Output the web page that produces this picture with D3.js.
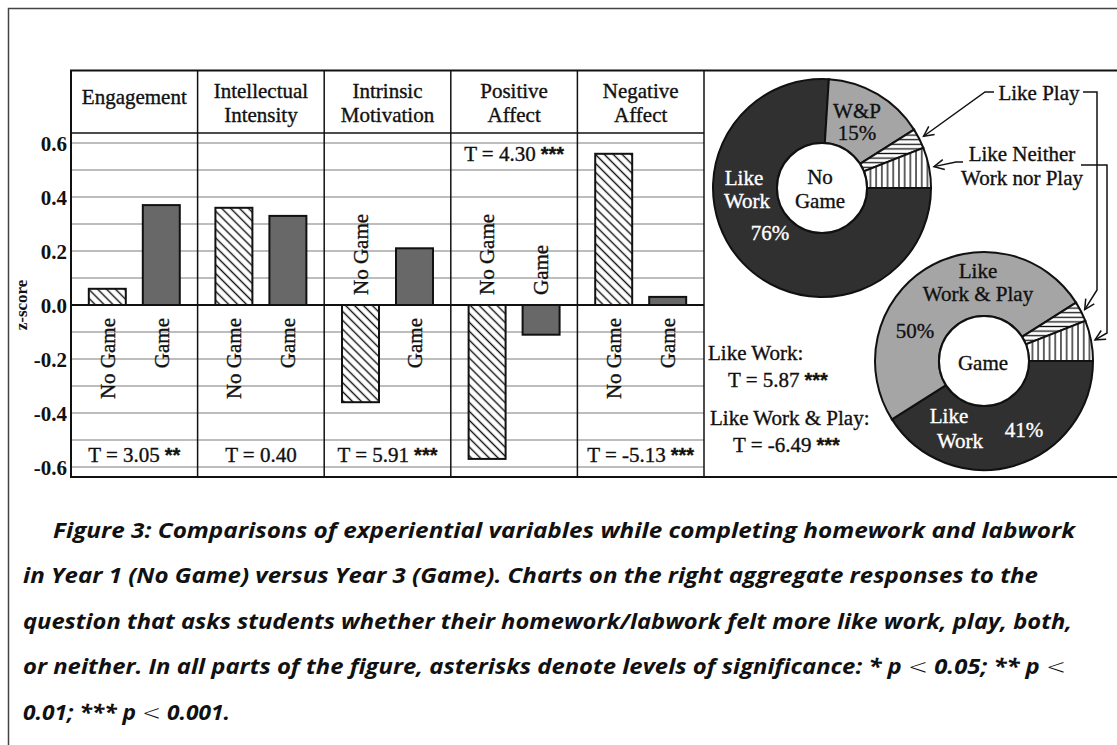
<!DOCTYPE html>
<html><head><meta charset="utf-8">
<script src="https://cdn.jsdelivr.net/npm/d3@7"></script>
<style>
html,body{margin:0;padding:0;background:#fff;overflow:hidden}
svg{display:block}
.st{stroke-width:0.35px}
</style></head><body>
<svg id="c" width="1117" height="745"></svg>
<script>
// ---------------- DATA ----------------
const categories = ["Engagement", "Intellectual Intensity", "Intrinsic Motivation", "Positive Affect", "Negative Affect"];
const headerLines = [["Engagement"], ["Intellectual", "Intensity"], ["Intrinsic", "Motivation"], ["Positive", "Affect"], ["Negative", "Affect"]];
const groups = ["No Game", "Game"];
const noGameValues = [0.06, 0.36, -0.36, -0.57, 0.56];
const gameValues = [0.37, 0.33, 0.21, -0.11, 0.03];
const tStats = ["T = 3.05", "T = 0.40", "T = 5.91", "T = 4.30", "T = -5.13"];
const tStars = ["**", "", "***", "***", "***"];
const yTicks = [-0.6, -0.4, -0.2, 0.0, 0.2, 0.4, 0.6];
const gridValues = [-0.6, -0.5, -0.4, -0.3, -0.2, -0.1, 0.1, 0.2, 0.3, 0.4, 0.5, 0.6];
const yLabel = "z-score";

const pieCategories = ["Like Work", "Like Work & Play", "Like Play", "Like Neither"];
const noGameShares = [76, 15, 3, 6];
const gameShares = [41, 50, 3, 6];
const pieStats = [["Like Work:", "T = 5.87", "***"], ["Like Work & Play:", "T = -6.49", "***"]];

const captionLines = [
  "Figure 3: Comparisons of experiential variables while completing homework and labwork",
  "in Year 1 (No Game) versus Year 3 (Game). Charts on the right aggregate responses to the",
  "question that asks students whether their homework/labwork felt more like work, play, both,",
  "or neither. In all parts of the figure, asterisks denote levels of significance: * p < 0.05; ** p <",
  "0.01; *** p < 0.001."
];

// ---------------- SETUP ----------------
const svg = d3.select("#c");
const serif = "'Liberation Serif','Times New Roman',serif";
const FS = 21;

const defs = svg.append("defs");
function hatch(id, w, h, rot, x1, y1, x2, y2, sw) {
  const p = defs.append("pattern").attr("id", id).attr("patternUnits", "userSpaceOnUse")
    .attr("width", w).attr("height", h);
  if (rot) p.attr("patternTransform", `rotate(${rot})`);
  p.append("rect").attr("width", w).attr("height", h).attr("fill", "#fff");
  p.append("line").attr("x1", x1).attr("y1", y1).attr("x2", x2).attr("y2", y2)
    .attr("stroke", "#111").attr("stroke-width", sw);
}
hatch("diag", 6.3, 10, -45, 3.15, 0, 3.15, 10, 1.4);
hatch("hh", 10, 4.6, 0, 0, 2.3, 10, 2.3, 1.3);
hatch("vh", 5.7, 10, 0, 2.85, 0, 2.85, 10, 1.3);
const arrow = defs.append("marker").attr("id", "arr").attr("markerUnits", "userSpaceOnUse")
  .attr("markerWidth", 14).attr("markerHeight", 14).attr("refX", 11).attr("refY", 6)
  .attr("orient", "auto");
arrow.append("path").attr("d", "M1,1 L11,6 L1,11").attr("fill", "none").attr("stroke", "#111").attr("stroke-width", 1.5);

// outer frame
svg.append("path").attr("d", "M8.5,745 V8.5 H1117").attr("fill", "none").attr("stroke", "#444").attr("stroke-width", 1.5);

const boxL = 71, boxT = 70.5, boxB = 477, headB = 133, panelsR = 704;
const x = d3.scaleBand().domain(categories).range([boxL, panelsR]);
const xi = d3.scaleBand().domain(groups).range([0, x.bandwidth()]).paddingInner(0.315).paddingOuter(0.33);
const y = d3.scaleLinear().domain([-0.637, 0.637]).range([boxB, headB]);

// gridlines
svg.append("g").selectAll("line").data(gridValues).join("line")
  .attr("x1", boxL).attr("x2", panelsR).attr("y1", d => y(d)).attr("y2", d => y(d))
  .attr("stroke", "#bdbdbd").attr("stroke-width", 2);

// bars
const barData = categories.flatMap((c, i) => [
  { c, g: groups[0], v: noGameValues[i] },
  { c, g: groups[1], v: gameValues[i] }
]);
svg.append("g").selectAll("rect").data(barData).join("rect")
  .attr("x", d => x(d.c) + xi(d.g))
  .attr("width", xi.bandwidth())
  .attr("y", d => y(Math.max(0, d.v)))
  .attr("height", d => Math.abs(y(d.v) - y(0)))
  .attr("fill", d => d.g === groups[0] ? "url(#diag)" : "#686868")
  .attr("stroke", "#111").attr("stroke-width", 2);

// zero line
svg.append("line").attr("x1", boxL).attr("x2", panelsR).attr("y1", y(0)).attr("y2", y(0))
  .attr("stroke", "#111").attr("stroke-width", 2);

// bar labels (rotated)
svg.append("g").selectAll("text").data(barData).join("text")
  .attr("class", "st").attr("stroke", "#111")
  .attr("transform", d => {
    const cx = x(d.c) + xi(d.g) + xi.bandwidth() / 2;
    const cy = d.v >= 0 ? y(0) + 13 : y(0) - 10;
    return `translate(${cx},${cy}) rotate(-90)`;
  })
  .attr("text-anchor", d => d.v >= 0 ? "end" : "start")
  .attr("dy", "0.35em")
  .attr("font-family", serif).attr("font-size", FS).attr("fill", "#111")
  .text(d => d.g);

// headers
const hdr = svg.append("g").selectAll("text").data(categories).join("text")
  .attr("class", "st").attr("stroke", "#111")
  .attr("text-anchor", "middle").attr("font-family", serif).attr("font-size", FS).attr("fill", "#111");
hdr.each(function (c, i) {
  const lines = headerLines[i];
  const base = lines.length === 1 ? [104] : [98, 122];
  d3.select(this).selectAll("tspan").data(lines).join("tspan")
    .attr("x", x(c) + x.bandwidth() / 2).attr("y", (d, j) => base[j]).text(d => d);
});

// T statistics
categories.forEach((c, i) => {
  const low = Math.min(noGameValues[i], gameValues[i]);
  const t = svg.append("text").attr("x", x(c) + x.bandwidth() / 2)
    .attr("class", "st").attr("stroke", "#111")
    .attr("y", low < -0.5 ? 161 : 462)
    .attr("text-anchor", "middle").attr("font-family", serif).attr("font-size", FS).attr("fill", "#111");
  t.append("tspan").text(tStats[i]);
  if (tStars[i]) t.append("tspan").attr("font-family", "'Liberation Sans',Arial,sans-serif")
    .attr("font-weight", "bold").attr("font-size", 20).attr("dx", 5).text(tStars[i]);
});

// panel dividers and box
svg.append("g").selectAll("line").data(categories.slice(1).concat(["__end"])).join("line")
  .attr("x1", d => d === "__end" ? panelsR : x(d)).attr("x2", d => d === "__end" ? panelsR : x(d))
  .attr("y1", boxT).attr("y2", boxB).attr("stroke", "#111").attr("stroke-width", 1.5);
svg.append("line").attr("x1", boxL).attr("x2", panelsR).attr("y1", headB).attr("y2", headB)
  .attr("stroke", "#111").attr("stroke-width", 1.5);
svg.append("path").attr("d", `M1117,${boxT} H${boxL} V${boxB} H1117`).attr("fill", "none")
  .attr("stroke", "#111").attr("stroke-width", 2);

// y axis
const yAxis = svg.append("g").attr("transform", `translate(${boxL},0)`)
  .call(d3.axisLeft(y).tickValues(yTicks).tickSize(0).tickPadding(4).tickFormat(d => d.toFixed(1)));
yAxis.select(".domain").remove();
yAxis.selectAll("text").attr("font-family", serif).attr("font-size", FS).attr("font-weight", "bold")
  .attr("fill", "#111").attr("dy", "0.38em");
svg.append("text").attr("transform", `translate(21,${y(0)}) rotate(-90)`).attr("text-anchor", "middle")
  .attr("dy", "0.35em").attr("font-family", serif).attr("font-size", 17).attr("font-weight", "bold")
  .attr("fill", "#111").text(yLabel);

// ---------------- DONUTS ----------------
const R = 109, RI = 45;
const pie = d3.pie().sort(null).value(d => d).startAngle(Math.PI / 2).endAngle(Math.PI / 2 + 2 * Math.PI);
const arc = d3.arc().innerRadius(RI).outerRadius(R);
const fills = ["#303030", "#a5a5a5", "url(#hh)", "url(#vh)"];

function donut(cx, cy, shares) {
  const g = svg.append("g").attr("transform", `translate(${cx},${cy})`);
  const arcs = pie(shares);
  g.selectAll("path").data(arcs).join("path").attr("d", arc)
    .attr("fill", (d, i) => fills[i]).attr("stroke", "#111").attr("stroke-width", 2);
  g.append("circle").attr("r", RI).attr("fill", "#fff").attr("stroke", "#111").attr("stroke-width", 2);
  return { g, arcs, cx, cy };
}
function tip(dn, i, extra) {
  const a = (dn.arcs[i].startAngle + dn.arcs[i].endAngle) / 2;
  return [dn.cx + Math.sin(a) * (R + extra), dn.cy - Math.cos(a) * (R + extra)];
}
function label(g, lines, dx, dys, color, anchor) {
  const t = g.append("text").attr("font-family", serif).attr("font-size", FS).attr("fill", color)
    .attr("class", "st").attr("stroke", color)
    .attr("text-anchor", anchor || "middle");
  lines.forEach((s, j) => t.append("tspan").attr("x", dx[j]).attr("y", dys[j]).text(s));
}

const d1 = donut(822, 188, noGameShares);
label(d1.g, ["W&P", "15%"], [35, 35], [-70, -48], "#111");
label(d1.g, ["Like", "Work"], [-78, -75], [-3, 20], "#fff");
label(d1.g, [noGameShares[0] + "%"], [-52], [52], "#fff");
label(d1.g, ["No", "Game"], [-2, -2], [-4, 20], "#111");

const d2 = donut(984, 361, gameShares);
label(d2.g, ["Like", "Work & Play"], [-6, -6], [-83, -60], "#111");
label(d2.g, [gameShares[1] + "%"], [-69], [-23], "#111");
label(d2.g, ["Game"], [-1], [9], "#111");
label(d2.g, ["Like", "Work"], [-35, -24], [62, 87], "#fff");
label(d2.g, [gameShares[0] + "%"], [40], [76], "#fff");

// callouts
const cg = svg.append("g");
label(cg, ["Like Play"], [1039], [100], "#111");
label(cg, ["Like Neither", "Work nor Play"], [1022, 1022], [161, 185], "#111");
const line = d3.line();
const p1 = tip(d1, 2, 5), p2 = tip(d1, 3, 5), p3 = tip(d2, 2, 4), p4 = tip(d2, 3, 4);
const paths = [
  [[994, 92], [985, 92], p1],
  [[963, 162], [956, 162], p2],
  [[1083, 92], [1097, 92], [1097, 290], p3],
  [[1081, 165], [1107, 165], [1107, 333], p4]
];
cg.selectAll("path").data(paths).join("path").attr("d", line).attr("fill", "none")
  .attr("stroke", "#111").attr("stroke-width", 1.5).attr("marker-end", "url(#arr)");

// stats
const sg = svg.append("g");
[[708, 360, 728, 387], [710, 425, 733, 452]].forEach((p, i) => {
  sg.append("text").attr("x", p[0]).attr("y", p[1]).attr("font-family", serif).attr("font-size", FS)
    .attr("class", "st").attr("stroke", "#111")
    .attr("fill", "#111").text(pieStats[i][0]);
  const t = sg.append("text").attr("x", p[2]).attr("y", p[3]).attr("font-family", serif).attr("font-size", FS)
    .attr("class", "st").attr("stroke", "#111").attr("fill", "#111");
  t.append("tspan").text(pieStats[i][1]);
  t.append("tspan").attr("font-family", "'Liberation Sans',Arial,sans-serif").attr("font-weight", "bold")
    .attr("font-size", 20).attr("dx", 5).text(pieStats[i][2]);
});

// ---------------- CAPTION ----------------
const capX = [53, 23, 23, 23, 23];
const capW = [1022, 1015, 1049, 1043, 207];
const capY = [538, 583, 629, 674, 720];
captionLines.forEach((s, i) => {
  const t = svg.append("text").attr("x", capX[i]).attr("y", capY[i])
    .attr("font-family", "'Open Sans',Lato,sans-serif").attr("font-weight", 700).attr("font-style", "italic")
    .attr("font-size", 21).attr("fill", "#111")
    .attr("textLength", capW[i]).attr("lengthAdjust", "spacingAndGlyphs");
  const parts = s.split("<");
  parts.forEach((p, j) => {
    if (j > 0) t.append("tspan").attr("font-weight", 300).attr("font-style", "normal")
      .attr("font-family", "'DejaVu Sans',sans-serif").text("<");
    t.append("tspan").text(p);
  });
});
</script>
</body></html>
